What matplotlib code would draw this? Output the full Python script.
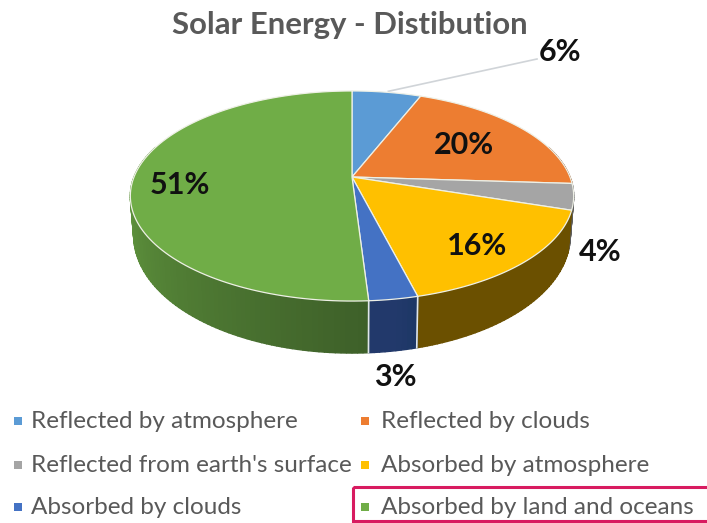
import numpy as np
import matplotlib
matplotlib.use("Agg")
import matplotlib.pyplot as plt
from matplotlib.colors import to_rgb
from matplotlib.patches import Rectangle

title = "Solar Energy - Distibution"
categories = ["Reflected by atmosphere", "Reflected by clouds", "Reflected from earth's surface",
              "Absorbed by atmosphere", "Absorbed by clouds", "Absorbed by land and oceans"]
values = [6, 20, 4, 16, 3, 51]

colors = ["#5b9bd5", "#ed7d31", "#a5a5a5", "#ffc000", "#4472c4", "#70ad47"]
# side wall colours, (start, end) going clockwise round the pie
side_colors = [("#2e5a80", "#2e5a80"), ("#8a4a1c", "#8a4a1c"), ("#5e5e5e", "#5e5e5e"),
               ("#6b5000", "#6b5000"), ("#1d3766", "#22396b"), ("#3e6029", "#62993f")]

label_pos = [(560, 52), (464, 145), (600, 252), (477, 246), (395, 377), (180, 185)]

# perspective of the pie disc, in pixels
CX, CY = 352, 177
RX, RY, K = 218, 101.6, 0.181


def top_xy(theta):
    # theta clockwise from 12 o'clock, radians
    d = 1 + K * np.cos(theta)
    return CX + RX * np.sin(theta) / d, CY - RY * np.cos(theta) / d


def low_xy(theta):
    x, y = top_xy(theta)
    return CX + (x - CX) * 0.985, y + 36 - 16 * np.cos(theta)


fig = plt.figure(figsize=(7.07, 5.23), dpi=100)
ax = fig.add_axes([0, 0, 1, 1])
ax.set_xlim(0, 707)
ax.set_ylim(523, 0)
ax.axis("off")
plt.rcParams["font.family"] = ["Lato", "DejaVu Sans"]

edges = np.cumsum([0] + values) / sum(values) * 2 * np.pi

# side wall first, back to front
facets = []
for i in range(len(values)):
    n = max(int(values[i] * 3), 4)
    th = np.linspace(edges[i], edges[i + 1], n + 1)
    c0, c1 = np.array(to_rgb(side_colors[i][0])), np.array(to_rgb(side_colors[i][1]))
    for j in range(n):
        # gradient is used up by the time the wall turns out of sight
        t = min(1.0, 2.0 * j / max(n - 1, 1))
        facets.append((th[j], th[j + 1], c0 + (c1 - c0) * t))
facets.sort(key=lambda f: -np.cos((f[0] + f[1]) / 2))

for a, b, col in facets:
    if np.cos((a + b) / 2) > 0.3:
        continue
    tt = np.linspace(a, b, 5)
    x1, y1 = top_xy(tt)
    x2, y2 = low_xy(tt[::-1])
    ax.fill(np.r_[x1, x2], np.r_[y1, y2], facecolor=col, edgecolor=col, lw=1.0, zorder=2)

# light seams on the visible wall
for e in edges[[4, 5]]:
    x1, y1 = top_xy(e)
    x2, y2 = low_xy(e)
    ax.plot([x1, x2], [y1, y2], color="#dfe6ea", lw=1.2, zorder=3)

# top face
for i in range(len(values)):
    tt = np.linspace(edges[i], edges[i + 1], 120)
    x, y = top_xy(tt)
    ax.fill(np.r_[CX, x], np.r_[CY, y], facecolor=colors[i], edgecolor="#eef0e6",
            lw=0.9, joinstyle="round", zorder=4)

# leader line for the 6% label
lx, ly = top_xy(np.radians(11))
ax.plot([lx + 1, 537], [ly - 1, 59], color="#d0d4d8", lw=1.2, zorder=3)

ax.text(350, 25, title, ha="center", va="center", fontsize=22.4, fontweight="bold", color="#595959")

for (x, y), v in zip(label_pos, values):
    ax.text(x, y, f"{v}%", ha="center", va="center", fontsize=22, fontweight="bold",
            color="#111111", zorder=6)

# legend
col_x = [(18, 31), (365, 381)]
row_y = [421, 465, 507]
for i, name in enumerate(categories):
    mx, tx = col_x[i % 2]
    y = row_y[i // 2]
    ax.add_patch(Rectangle((mx - 4, y - 4), 8, 8, color=colors[i], lw=0))
    ax.text(tx, y, name, ha="left", va="center", fontsize=17.5, color="#595959")

ax.add_patch(Rectangle((353, 487), 360, 34, fill=False, edgecolor="#d81b60", lw=2.2, zorder=7))

fig.savefig("out.png", dpi=100)
